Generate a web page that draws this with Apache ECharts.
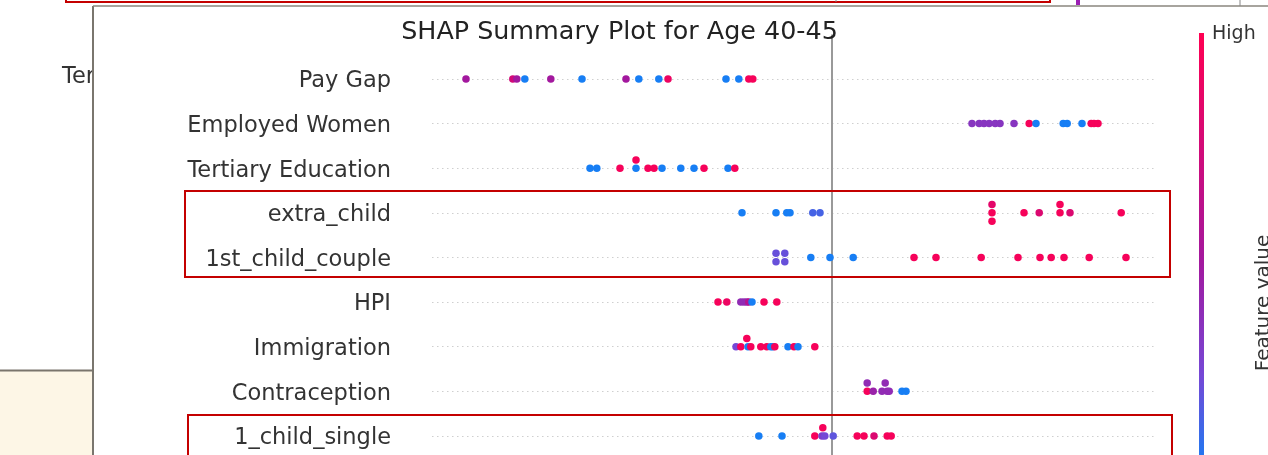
<!DOCTYPE html>
<html>
<head>
<meta charset="utf-8">
<style>
  html, body { margin: 0; padding: 0; background: #ffffff; }
  #chart { width: 1268px; height: 455px; }
</style>
<script src="https://cdn.jsdelivr.net/npm/echarts@6/dist/echarts.min.js"></script>
</head>
<body>
<div id="chart"></div>
<script>
// Feature names, top to bottom
const features = [
  'Pay Gap', 'Employed Women', 'Tertiary Education', 'extra_child',
  '1st_child_couple', 'HPI', 'Immigration', 'Contraception', '1_child_single'
];

// One entry per sample: [SHAP value, normalised feature value (0 low .. 1 high), swarm lane]
const payGap = [
  [-0.915, 0.5, 0], [-0.798, 0.75, 0], [-0.788, 0.5, 0], [-0.768, 0.05, 0],
  [-0.703, 0.5, 0], [-0.625, 0.05, 0], [-0.515, 0.5, 0], [-0.483, 0.05, 0],
  [-0.433, 0.05, 0], [-0.410, 0.9, 0], [-0.265, 0.05, 0], [-0.233, 0.05, 0],
  [-0.208, 0.95, 0], [-0.198, 0.95, 0]
];
const employedWomen = [
  [0.350, 0.35, 0], [0.368, 0.35, 0], [0.380, 0.35, 0], [0.393, 0.35, 0],
  [0.408, 0.35, 0], [0.420, 0.35, 0], [0.455, 0.35, 0], [0.493, 0.95, 0],
  [0.510, 0.05, 0], [0.578, 0.05, 0], [0.588, 0.05, 0], [0.625, 0.05, 0],
  [0.648, 0.95, 0], [0.655, 0.95, 0], [0.665, 0.95, 0]
];
const tertiaryEducation = [
  [-0.605, 0.05, 0], [-0.588, 0.05, 0], [-0.530, 0.95, 0], [-0.490, 0.05, 0],
  [-0.490, 0.95, 1], [-0.460, 0.95, 0], [-0.445, 0.95, 0], [-0.425, 0.05, 0],
  [-0.378, 0.05, 0], [-0.345, 0.05, 0], [-0.320, 0.95, 0], [-0.260, 0.05, 0],
  [-0.243, 0.95, 0]
];
const extraChild = [
  [-0.225, 0.05, 0], [-0.140, 0.05, 0], [-0.113, 0.05, 0], [-0.105, 0.05, 0],
  [-0.048, 0.15, 0], [-0.030, 0.15, 0], [0.400, 0.85, 1], [0.400, 0.95, 0],
  [0.400, 0.95, -1], [0.480, 0.95, 0], [0.518, 0.8, 0], [0.570, 0.95, 1],
  [0.570, 0.95, 0], [0.595, 0.8, 0], [0.723, 0.95, 0]
];
const firstChildCouple = [
  [-0.140, 0.22, 0.5], [-0.140, 0.22, -0.5], [-0.118, 0.22, 0.5], [-0.118, 0.22, -0.5],
  [-0.053, 0.05, 0], [-0.005, 0.05, 0], [0.053, 0.05, 0], [0.205, 0.95, 0],
  [0.260, 0.95, 0], [0.373, 0.95, 0], [0.465, 0.95, 0], [0.520, 0.95, 0],
  [0.548, 0.95, 0], [0.580, 0.95, 0], [0.643, 0.95, 0], [0.735, 0.95, 0]
];
const hpi = [
  [-0.285, 0.95, 0], [-0.263, 0.9, 0], [-0.228, 0.4, 0], [-0.220, 0.4, 0],
  [-0.213, 0.4, 0], [-0.208, 0.6, 0], [-0.200, 0.05, 0], [-0.170, 0.95, 0],
  [-0.138, 0.95, 0]
];
const immigration = [
  [-0.240, 0.25, 0], [-0.228, 0.95, 0], [-0.213, 0.95, 1], [-0.210, 0.05, 0],
  [-0.203, 0.95, 0], [-0.178, 0.95, 0], [-0.163, 0.95, 0], [-0.153, 0.05, 0],
  [-0.148, 0.05, 0], [-0.143, 0.95, 0], [-0.110, 0.05, 0], [-0.095, 0.95, 0],
  [-0.085, 0.05, 0], [-0.043, 0.95, 0]
];
const contraception = [
  [0.088, 0.95, 0], [0.088, 0.4, 1], [0.103, 0.45, 0], [0.125, 0.4, 0],
  [0.133, 0.4, 1], [0.138, 0.4, 0], [0.143, 0.4, 0], [0.175, 0.05, 0],
  [0.185, 0.05, 0]
];
const oneChildSingle = [
  [-0.183, 0.05, 0], [-0.125, 0.05, 0], [-0.043, 0.95, 0], [-0.025, 0.3, 0],
  [-0.023, 0.95, 1], [-0.018, 0.25, 0], [0.003, 0.2, 0], [0.063, 0.95, 0],
  [0.080, 0.95, 0], [0.105, 0.8, 0], [0.138, 0.95, 0], [0.148, 0.95, 0]
];

const samplesByFeature = [
  payGap, employedWomen, tertiaryEducation, extraChild, firstChildCouple,
  hpi, immigration, contraception, oneChildSingle
];

// Blue (low) -> purple -> red (high) colour map
const colorMap = ['#008bfb', '#7548d6', '#a3189e', '#d20a78', '#ff0052'];

// Vertical spacing between stacked dots in a swarm, in row units
const LANE_STEP = 0.186;

const points = [];
samplesByFeature.forEach((samples, row) => {
  samples.forEach(([s, fv, lane]) => {
    points.push([s, row - lane * LANE_STEP, fv]);
  });
});

const FONT = 'DejaVu Sans';
const chart = echarts.init(document.getElementById('chart'), null, { renderer: 'canvas' });

chart.setOption({
  animation: false,
  backgroundColor: '#ffffff',
  grid: { left: 432, right: 112, top: 34.375, bottom: 0, containLabel: false },
  xAxis: {
    type: 'value', min: -1, max: 0.81, show: false,
    splitLine: { show: false }
  },
  yAxis: {
    type: 'value', inverse: true, min: -1, max: 8.426, interval: 1, z: 5,
    axisLine: { show: false }, axisTick: { show: false },
    axisLabel: {
      margin: 41, color: '#333333',
      showMinLabel: false,
      formatter: v => features[v] ? '{f|' + features[v] + '}' : '',
      rich: {
        f: { fontFamily: FONT, fontSize: 22.5, color: '#333333', padding: [5, 0, 0, 0] }
      }
    },
    splitLine: {
      show: true, showMinLine: false, showMaxLine: false,
      lineStyle: { color: '#cfcfcf', width: 1, type: [1.5, 3.5] }
    }
  },
  visualMap: {
    show: false, type: 'continuous', min: 0, max: 1, dimension: 2,
    inRange: { color: colorMap }
  },
  series: [{
    type: 'scatter',
    z: 6,
    symbolSize: 7.5,
    data: points,
    itemStyle: { opacity: 1 },
    markLine: {
      silent: true, symbol: 'none', label: { show: false },
      lineStyle: { color: '#999999', width: 2, type: 'solid' },
      data: [{ xAxis: 0 }]
    }
  }],
  graphic: [
    // text of the window behind the figure
    { type: 'text', z: 0, x: 62, y: 77, style: {
        text: 'Tertiary Education', font: '22.5px "DejaVu Sans"', fill: '#333333',
        textVerticalAlign: 'middle' } },
    // figure panel
    { type: 'rect', z: 1, shape: { x: 93, y: 6, width: 1175, height: 449 },
      style: { fill: '#ffffff' } },
    // cream block at lower left
    { type: 'rect', z: 1, shape: { x: 0, y: 371, width: 93, height: 84 },
      style: { fill: '#fdf6e6' } },
    { type: 'line', z: 2, shape: { x1: 0, y1: 370.5, x2: 93, y2: 370.5 },
      style: { stroke: '#7a756c', lineWidth: 2 } },
    // figure frame
    { type: 'line', z: 2, shape: { x1: 93, y1: 6, x2: 93, y2: 455 },
      style: { stroke: '#7a766e', lineWidth: 2 } },
    { type: 'line', z: 2, shape: { x1: 93, y1: 6, x2: 1268, y2: 6 },
      style: { stroke: '#8a867e', lineWidth: 1.5 } },
    // strip along the top edge
    { type: 'rect', z: 2, shape: { x: 66, y: -10, width: 984, height: 12 },
      style: { fill: 'none', stroke: '#c40000', lineWidth: 2 } },
    { type: 'line', z: 2, shape: { x1: 836, y1: 0, x2: 836, y2: 2 },
      style: { stroke: '#888888', lineWidth: 1 } },
    { type: 'rect', z: 2, shape: { x: 1076, y: 0, width: 4, height: 5 },
      style: { fill: '#9b1fb3' } },
    { type: 'line', z: 2, shape: { x1: 1240, y1: 0, x2: 1240, y2: 6 },
      style: { stroke: '#888888', lineWidth: 1 } },
    // title
    { type: 'text', z: 7, x: 619.5, y: 32, style: {
        text: 'SHAP Summary Plot for Age 40-45', font: '25.4px "DejaVu Sans"', fill: '#222222',
        textAlign: 'center', textVerticalAlign: 'middle' } },
    // colour bar
    { type: 'rect', z: 7, shape: { x: 1199, y: 33, width: 5, height: 457 },
      style: { fill: new echarts.graphic.LinearGradient(0, 0, 0, 1,
        colorMap.slice().reverse().map((c, i, a) => ({ offset: i / (a.length - 1), color: c }))) } },
    { type: 'text', z: 7, x: 1212, y: 34, style: {
        text: 'High', font: '19px "DejaVu Sans"', fill: '#333333', textVerticalAlign: 'middle' } },
    { type: 'text', z: 7, x: 1264, y: 303, rotation: Math.PI / 2, style: {
        text: 'Feature value', font: '20px "DejaVu Sans"', fill: '#333333',
        textAlign: 'center', textVerticalAlign: 'middle' } },
    // highlight boxes
    { type: 'rect', z: 8, shape: { x: 185, y: 191, width: 985, height: 86 },
      style: { fill: 'none', stroke: '#c40000', lineWidth: 2 } },
    { type: 'rect', z: 8, shape: { x: 188, y: 415, width: 984, height: 60 },
      style: { fill: 'none', stroke: '#c40000', lineWidth: 2 } }
  ]
});
</script>
</body>
</html>
